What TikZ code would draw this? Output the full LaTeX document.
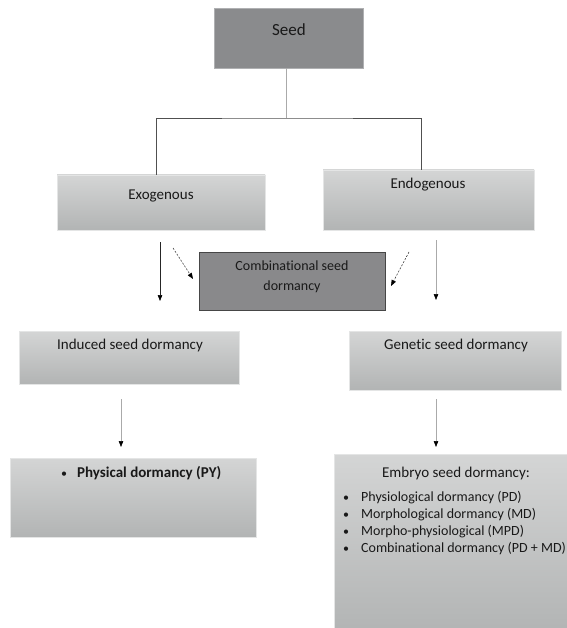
\documentclass[tikz,border=0pt]{standalone}
\usepackage{fontspec}
\setmainfont{Carlito}[RawFeature={-liga;-clig;-dlig;-calt}]
\usetikzlibrary{arrows.meta}
\definecolor{darkbox}{RGB}{138,139,141}
\definecolor{darkedge}{RGB}{175,176,178}
\definecolor{combfill}{RGB}{137,137,139}
\definecolor{combedge}{RGB}{70,70,70}
\definecolor{lighttop}{RGB}{212,213,213}
\definecolor{lightbot}{RGB}{178,180,180}
\definecolor{boxedge}{RGB}{228,229,229}
\definecolor{stemgray}{RGB}{170,170,170}
\definecolor{treegray}{RGB}{80,80,80}
\newcommand{\smbul}{{\fontsize{12}{12}\selectfont\textbullet}}
\begin{document}
\begin{tikzpicture}[x=1pt,y=-1pt,
  lightbox/.style={draw=boxedge, line width=0.8pt, top color=lighttop, bottom color=lightbot, inner sep=0pt},
  seedbox/.style={draw=darkedge, line width=0.8pt, fill=darkbox, inner sep=0pt},
  combbox/.style={draw=combedge, line width=0.8pt, fill=combfill, inner sep=0pt},
  txt/.style={inner sep=0pt, anchor=mid, font=\fontsize{15}{18}\selectfont, text=black!90},
  arr/.style={draw=black!85, line width=0.6pt, -{Triangle[length=6pt,width=4.5pt,color=black]}},
  lightarr/.style={draw=stemgray, line width=0.6pt, -{Triangle[length=6pt,width=4.5pt,color=black]}},
  dasharr/.style={draw=black!85, line width=0.5pt, dash pattern=on 2pt off 1.5pt, -{Triangle[length=6pt,width=4.5pt,color=black]}},
  stem/.style={draw=stemgray, line width=0.8pt},
  tree/.style={draw=treegray, line width=0.9pt}
]
\useasboundingbox[fill=white] (0,0) rectangle (566,628);

% boxes
\node[seedbox, minimum width=149pt, minimum height=60pt] (seed) at (288.5,38) {};
\node[lightbox, minimum width=208pt, minimum height=55pt] (exo) at (161,202.5) {};
\node[lightbox, minimum width=211pt, minimum height=60pt] (endo) at (428.5,200) {};
\node[combbox, minimum width=186pt, minimum height=58pt] (comb) at (292,281) {};
\node[lightbox, minimum width=220pt, minimum height=53pt] (ind) at (129,357.5) {};
\node[lightbox, minimum width=212pt, minimum height=59pt] (gen) at (455,360.5) {};
\node[lightbox, minimum width=246pt, minimum height=79pt] (phys) at (133,497.5) {};
\node[lightbox, minimum width=236pt, minimum height=178pt] (emb) at (452,543) {};

% texts
\node[txt, font=\fontsize{17}{20}\selectfont] (seedt) at (289,33) {Seed};
\node[txt] (exot) at (161,197) {Exogenous};
\node[txt] (endot) at (428,186) {Endogenous};
\node[txt, anchor=center, align=center, font=\fontsize{14}{20}\selectfont] (combt) at (292,277) {Combinational seed\\dormancy};
\node[txt] (indt) at (130,347) {Induced seed dormancy};
\node[txt] (gent) at (456,347) {Genetic seed dormancy};
\node[txt, anchor=mid west] (physt) at (61,475) {\smbul\hspace{10pt}\textbf{Physical dormancy (PY)}};
\node[txt] (embt) at (456,475) {Embryo seed dormancy:};
\node[txt, anchor=base west, font=\fontsize{14}{17}\selectfont] (embl) at (343,501)
  {\begin{tabular}[t]{@{}l@{\hspace{12pt}}l@{}}
   \smbul & Physiological dormancy (PD)\\
   \smbul & Morphological dormancy (MD)\\
   \smbul & Morpho-physiological (MPD)\\
   \smbul & Combinational dormancy (PD + MD)
   \end{tabular}};

% tree connectors
\coordinate (jn) at (286,118);
\draw[stem] (seed.south -| jn) -- (jn);
\draw[tree] ([xshift=-5pt]exo.north) |- (jn) -| ([xshift=-7.5pt]endo.north);

% arrows
\coordinate (a1s) at (160,242); \coordinate (a1e) at (160,301);
\coordinate (d1s) at (173,248); \coordinate (d1e) at (193,279);
\coordinate (d2s) at (409,252); \coordinate (d2e) at (391,286);
\coordinate (a2s) at (436,240); \coordinate (a2e) at (436,300);
\coordinate (a3s) at (121,399); \coordinate (a3e) at (121,447);
\coordinate (a4s) at (436,399); \coordinate (a4e) at (436,447);
\draw[arr] (a1s) -- (a1e);
\draw[dasharr] (d1s) -- (d1e);
\draw[dasharr] (d2s) -- (d2e);
\draw[lightarr] (a2s) -- (a2e);
\draw[lightarr] (a3s) -- (a3e);
\draw[lightarr] (a4s) -- (a4e);
\end{tikzpicture}
\end{document}
